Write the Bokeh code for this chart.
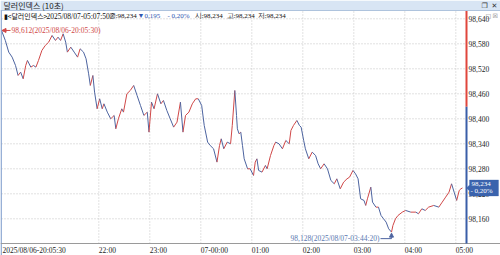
from bokeh.plotting import figure
from bokeh.models import (ColumnDataSource, BoxAnnotation, Label, PolyAnnotation, Arrow, NormalHead)
from bokeh.core.properties import value
from bokeh.embed import file_html
from bokeh.resources import INLINE

# ---------------- data ----------------
times = ["20:05:30", "20:10", "20:14", "20:18", "20:22", "20:25", "20:28", "20:31", "20:34", "20:36",
         "20:40", "20:43", "20:46", "20:49", "20:53", "20:57", "21:01", "21:05", "21:09", "21:12",
         "21:15", "21:18", "21:21", "21:23", "21:27", "21:31", "21:35", "21:38", "21:42", "21:45",
         "21:48", "21:50", "21:53", "21:55", "21:58", "22:01", "22:04", "22:06", "22:10", "22:14",
         "22:18", "22:20", "22:23", "22:27", "22:29", "22:33", "22:37", "22:41", "22:45", "22:49",
         "22:53", "22:57", "22:59", "23:02", "23:05", "23:09", "23:13", "23:16", "23:20", "23:24",
         "23:28", "23:32", "23:36", "23:39", "23:42", "23:46", "23:50", "23:54", "23:57", "00:01",
         "00:04", "00:08", "00:11", "00:15", "00:19", "00:22", "00:24", "00:27", "00:31", "00:35",
         "00:37", "00:40", "00:42", "00:43", "00:45", "00:47", "00:49", "00:51", "00:55", "00:58",
         "01:02", "01:04", "01:06", "01:08", "01:12", "01:16", "01:18", "01:22", "01:26", "01:28",
         "01:32", "01:36", "01:40", "01:44", "01:46", "01:49", "01:53", "01:56", "01:58", "02:01",
         "02:03", "02:07", "02:11", "02:15", "02:18", "02:21", "02:25", "02:29", "02:33", "02:37",
         "02:40", "02:44", "02:48", "02:52", "02:55", "02:59", "03:02", "03:05", "03:08", "03:12",
         "03:14", "03:16", "03:20", "03:22", "03:26", "03:29", "03:32", "03:35", "03:38", "03:41",
         "03:44:20", "03:46", "03:49", "03:52", "03:57", "04:01", "04:07", "04:13", "04:16", "04:20",
         "04:24", "04:28", "04:34", "04:40", "04:44", "04:48", "04:52", "04:55", "04:58", "05:01",
         "05:04", "05:06", "05:07:50"]
prices = [98.612, 98.588, 98.560, 98.548, 98.528, 98.504, 98.512, 98.496, 98.528, 98.540,
          98.524, 98.528, 98.524, 98.540, 98.564, 98.576, 98.584, 98.600, 98.588, 98.596,
          98.588, 98.604, 98.584, 98.560, 98.572, 98.560, 98.548, 98.568, 98.560, 98.544,
          98.508, 98.480, 98.504, 98.464, 98.424, 98.448, 98.424, 98.436, 98.416, 98.400,
          98.408, 98.376, 98.400, 98.424, 98.416, 98.460, 98.468, 98.480, 98.456, 98.432,
          98.408, 98.416, 98.368, 98.440, 98.424, 98.460, 98.436, 98.444, 98.420, 98.400,
          98.380, 98.392, 98.440, 98.368, 98.408, 98.416, 98.436, 98.448, 98.448, 98.432,
          98.384, 98.344, 98.336, 98.328, 98.296, 98.336, 98.352, 98.328, 98.344, 98.340,
          98.384, 98.468, 98.408, 98.376, 98.364, 98.368, 98.336, 98.304, 98.280, 98.280,
          98.264, 98.296, 98.304, 98.276, 98.272, 98.288, 98.280, 98.312, 98.336, 98.344,
          98.340, 98.328, 98.348, 98.340, 98.372, 98.384, 98.396, 98.384, 98.380, 98.348,
          98.328, 98.304, 98.320, 98.312, 98.292, 98.280, 98.292, 98.280, 98.252, 98.244,
          98.256, 98.232, 98.248, 98.256, 98.260, 98.276, 98.268, 98.256, 98.208, 98.204,
          98.192, 98.208, 98.236, 98.200, 98.188, 98.188, 98.168, 98.160, 98.152, 98.136,
          98.128, 98.144, 98.160, 98.168, 98.176, 98.180, 98.176, 98.176, 98.172, 98.184,
          98.180, 98.188, 98.192, 98.188, 98.200, 98.212, 98.224, 98.244, 98.224, 98.204,
          98.228, 98.232, 98.234]

high_date, high_time, high_price = "2025/08/06", "20:05:30", 98.612
low_date, low_time, low_price = "2025/08/07", "03:44:20", 98.128
last_date, last_time, last_price = "2025/08/07", "05:07:50", 98.234
prev_close = 98.429
change_text = "▼0,195"
change_pct_text = "- 0,20%"

y_ticks = [98.160, 98.220, 98.280, 98.340, 98.400, 98.460, 98.520, 98.580, 98.640]
y_tick_labels = ["98,160", "98,220", "98,280", "98,340", "98,400", "98,460", "98,520", "98,580", "98,640"]
x_tick_times = ["20:05:30", "22:00", "23:00", "00:00", "01:00", "02:00", "03:00", "04:00", "05:00"]
x_tick_labels = ["2025/08/06-20:05:30", "22:00", "23:00", "07-00:00", "01:00", "02:00", "03:00", "04:00", "05:00"]

title_text = "달러인덱스 (10초)"


def fmt(v):
    return f"{v:.3f}".replace(".", ",")


def to_t(s):
    parts = [int(p) for p in s.split(":")]
    h, m = parts[0], parts[1]
    sec = parts[2] if len(parts) > 2 else 0
    if h < 12:
        h += 24
    return h - 20 + m / 60 + sec / 3600


# ---------------- layout (frame covers the whole canvas) ----------------
W, H = 500, 255
PL, PR, PT, PB = 1, 466, 11, 243         # plot area in canvas pixels
PXH = 51.0                               # pixels per hour
PXY = 25 / 0.06                          # pixels per price unit
T0 = to_t(times[0])
TL = T0 - PL / PXH
TR = TL + W / PXH
YT = 98.640 + 18.3 / PXY
YB = YT - H / PXY


def dx(px):
    return TL + px / PXH


def dy(py):
    return YT - py / PXY


def py_of(v):
    return (YT - v) * PXY


RED = "#d04848"
BLUE = "#4d64a0"
AX_RED = "#e0463c"
AX_BLUE = "#3a5ea8"
NUMFONT = "Liberation Sans Narrow"
KRFONT = "Noto Sans CJK KR"

p = figure(width=W, height=H, x_range=(TL, TR), y_range=(YB, YT),
           x_axis_location=None, y_axis_location=None,
           output_backend="svg", toolbar_location=None, title=None,
           min_border=0, min_border_left=0, min_border_right=0, min_border_top=0, min_border_bottom=0,
           background_fill_color="white", border_fill_color="white", outline_line_color=None)
p.grid.visible = False

# dotted grid inside the plot area
hour_ticks = [to_t(s) for s in x_tick_times[1:]]
p.segment(x0=hour_ticks, y0=[dy(PT)] * len(hour_ticks), x1=hour_ticks, y1=[dy(PB)] * len(hour_ticks),
          line_color="#c4c4c4", line_dash="1 2", line_width=1)
p.segment(x0=[dx(PL)] * len(y_ticks), y0=y_ticks, x1=[dx(PR)] * len(y_ticks), y1=y_ticks,
          line_color="#c4c4c4", line_dash="1 2", line_width=1)

# price series as up/down coloured steps
ts = [to_t(s) for s in times]
seg = dict(x0=ts[:-1], y0=prices[:-1], x1=ts[1:], y1=prices[1:],
           c=[RED if b >= a else BLUE for a, b in zip(prices[:-1], prices[1:])])
p.segment("x0", "y0", "x1", "y1", source=ColumnDataSource(seg), line_color="c", line_width=1.0)

# axis tick labels
p.text(x=[dx(PR + 2)] * len(y_ticks), y=y_ticks, text=y_tick_labels,
       text_font=value(NUMFONT), text_font_size="7.5px", text_color="#222222",
       text_baseline="middle", text_align="left")
x_label_pos = [T0 + 1 / PXH] + hour_ticks
p.text(x=x_label_pos, y=[dy(249.5)] * len(x_label_pos), text=x_tick_labels,
       text_font=value(NUMFONT), text_font_size="7.5px", text_color="#222222",
       text_baseline="middle", text_align="left")

# title bar, borders, axis lines
p.add_layout(BoxAnnotation(bottom=dy(10), fill_color="#d8e5f4", fill_alpha=1, line_color=None))
p.add_layout(BoxAnnotation(top=dy(9.5), bottom=dy(10.5), fill_color="#aec3dd", fill_alpha=1, line_color=None))
p.add_layout(BoxAnnotation(right=dx(1.3), top=dy(10), fill_color="#7e9ccc", fill_alpha=1, line_color=None))
p.add_layout(BoxAnnotation(top=dy(242.5), bottom=dy(243.5), fill_color="#9a9a9a", fill_alpha=1, line_color=None))
p.add_layout(BoxAnnotation(left=dx(PR - 1), right=dx(PR + 1), top=dy(10.5), bottom=prev_close,
                           fill_color=AX_RED, fill_alpha=1, line_color=None))
p.add_layout(BoxAnnotation(left=dx(PR - 1), right=dx(PR + 1), top=prev_close, bottom=dy(PB),
                           fill_color=AX_BLUE, fill_alpha=1, line_color=None))

# high annotation
t_hi = to_t(high_time)
p.add_layout(Arrow(x_start=t_hi + 9 / PXH, y_start=high_price, x_end=t_hi + 0.5 / PXH, y_end=high_price,
                   line_color=RED, line_width=1,
                   end=NormalHead(size=4, fill_color=RED, line_color=RED)))
p.add_layout(Label(x=t_hi + 10 / PXH, y=high_price, text=f"{fmt(high_price)}({high_date}-{high_time})",
                   text_font=NUMFONT, text_font_size="7.5px", text_color=RED,
                   text_baseline="middle", text_align="left"))

# low annotation
t_lo = to_t(low_time)
y_low_txt = low_price - 6.5 / PXY
p.add_layout(Arrow(x_start=t_lo - 11 / PXH, y_start=y_low_txt, x_end=t_lo, y_end=y_low_txt,
                   line_color=BLUE, line_width=1, end=None))
p.add_layout(Arrow(x_start=t_lo, y_start=y_low_txt, x_end=t_lo, y_end=low_price - 1 / PXY,
                   line_color=BLUE, line_width=1,
                   end=NormalHead(size=4, fill_color=BLUE, line_color=BLUE)))
p.add_layout(Label(x=t_lo - 12 / PXH, y=y_low_txt, text=f"{fmt(low_price)}({low_date}-{low_time})",
                   text_font=NUMFONT, text_font_size="7.5px", text_color="#5a78b0",
                   text_baseline="middle", text_align="right"))


def clabel(x, y, text, size, color, font, align="left"):
    p.add_layout(Label(x=dx(x), y=dy(y), text=text,
                       text_font=font, text_font_size=size, text_color=color,
                       text_baseline="middle", text_align=align))


clabel(3, 5, title_text, "8px", "#1c1c1c", KRFONT)
clabel(481, 5, "❐", "7px", "#333333", "DejaVu Sans")
clabel(491, 5, "✕", "7px", "#333333", "DejaVu Sans")
clabel(485, 15, "□", "6px", "#777777", "DejaVu Sans")
clabel(492, 15, "☒", "6px", "#777777", "DejaVu Sans")

# info line (narrow digits; Korean glyphs fall back to a CJK font)
IFS = "7px"
clabel(3, 15.5, "▮<달러인덱스>", "7px", "#111111", KRFONT)
clabel(46, 15.5, f"{last_date}-{last_time}", "7.5px", "#111111", NUMFONT)
clabel(108, 15.5, f"종:{fmt(last_price)}", IFS, "#111111", NUMFONT)
clabel(137, 15.5, change_text, IFS, "#2f56b0", NUMFONT)
clabel(167, 15.5, change_pct_text, IFS, "#2f56b0", NUMFONT)
clabel(194, 15.5, f"시:{fmt(last_price)}", IFS, "#111111", NUMFONT)
clabel(226, 15.5, f"고:{fmt(last_price)}", IFS, "#111111", NUMFONT)
clabel(257, 15.5, f"저:{fmt(last_price)}", IFS, "#111111", NUMFONT)

# current price box on the axis
ly = py_of(last_price)
bx = [PR, PR + 3, PR + 3, 498, 498, PR + 3, PR + 3]
by = [ly, ly - 3, ly - 8, ly - 8, ly + 8, ly + 8, ly + 3]
p.add_layout(PolyAnnotation(xs=[dx(v) for v in bx], ys=[dy(v) for v in by],
                            fill_color="#3b63ad", fill_alpha=1, line_color="#3b63ad"))
clabel(471, ly - 3.5, fmt(last_price), "7px", "white", NUMFONT)
clabel(470, ly + 3.5, change_pct_text, "7px", "white", NUMFONT)

open("out.html", "w").write(file_html(p, INLINE))
